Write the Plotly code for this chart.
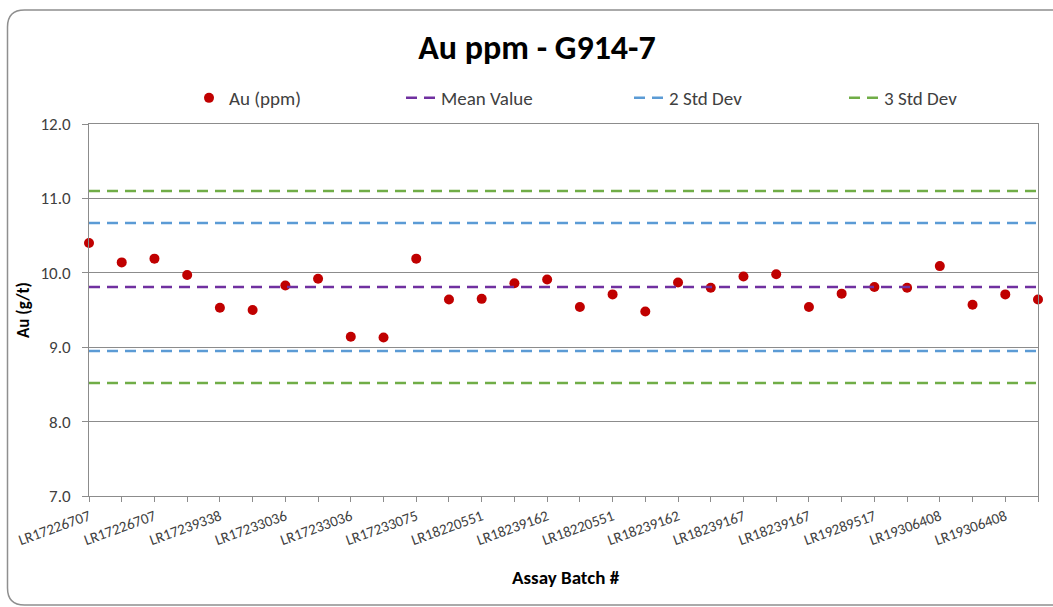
import plotly.graph_objects as go

# Au standard G914-7 control chart data
au_ppm = [10.40, 10.14, 10.19, 9.97, 9.53, 9.50, 9.83, 9.92, 9.14, 9.13,
          10.19, 9.64, 9.65, 9.86, 9.91, 9.54, 9.71, 9.48, 9.87, 9.80,
          9.95, 9.98, 9.54, 9.72, 9.81, 9.80, 10.09, 9.57, 9.71, 9.64]

# batch labels shown on every second sample
batch_labels = ["LR17226707", "LR17226707", "LR17239338", "LR17233036", "LR17233036",
                "LR17233075", "LR18220551", "LR18239162", "LR18220551", "LR18239162",
                "LR18239167", "LR18239167", "LR19289517", "LR19306408", "LR19306408"]

mean_value = 9.81
std_2 = [8.95, 10.67]
std_3 = [8.52, 11.10]

y_ticks = [7.0, 8.0, 9.0, 10.0, 11.0, 12.0]

W, H = 1053, 607
ML, MR, MT, MB = 89, 15, 124, 111

FONT = "Calibri, Carlito, sans-serif"
GRID = "#8c8c8c"
TXT = "#404040"

n = len(au_ppm)
xs = list(range(n))
tick_text = [batch_labels[i // 2] if i % 2 == 0 else "" for i in xs]

fig = go.Figure()

fig.add_trace(go.Scatter(
    x=xs, y=au_ppm, mode="markers", name="Au (ppm)", legend="legend",
    marker=dict(color="#c00000", size=10), cliponaxis=False))

dash = "11px,7px"
fig.add_trace(go.Scatter(
    x=[0, n - 1], y=[mean_value, mean_value], mode="lines", name="Mean Value",
    legend="legend2", line=dict(color="#7030a0", width=2.5, dash=dash)))
for j, (val, nm, col, lg) in enumerate([(std_2[1], "2 Std Dev", "#5b9bd5", "legend3"),
                                         (std_2[0], "2 Std Dev", "#5b9bd5", "legend3"),
                                         (std_3[1], "3 Std Dev", "#70ad47", "legend4"),
                                         (std_3[0], "3 Std Dev", "#70ad47", "legend4")]):
    fig.add_trace(go.Scatter(
        x=[0, n - 1], y=[val, val], mode="lines", name=nm, legend=lg,
        legendgroup=nm, showlegend=(j % 2 == 0),
        line=dict(color=col, width=2.5, dash=dash)))

# chart frame with rounded corners (pixel -> paper coordinates)
pw, ph = W - ML - MR, H - MT - MB


def px(x):
    return (x - ML) / pw


def py(y):
    return (H - MB - y) / ph


x0, y0, x1, y1, r = 7.5, 10, 1068, 605, 17
path = (f"M {px(x0 + r)},{py(y0)} L {px(x1 - r)},{py(y0)} "
        f"Q {px(x1)},{py(y0)} {px(x1)},{py(y0 + r)} "
        f"L {px(x1)},{py(y1 - r)} Q {px(x1)},{py(y1)} {px(x1 - r)},{py(y1)} "
        f"L {px(x0 + r)},{py(y1)} Q {px(x0)},{py(y1)} {px(x0)},{py(y1 - r)} "
        f"L {px(x0)},{py(y0 + r)} Q {px(x0)},{py(y0)} {px(x0 + r)},{py(y0)} Z")


def legend_at(text_x):
    # legend text begins 40px right of the legend box edge
    return dict(orientation="h", x=px(text_x - 40), xanchor="left",
                y=py(98), yanchor="middle",
                font=dict(size=19, color=TXT), bgcolor="rgba(0,0,0,0)")


fig.update_layout(
    width=W, height=H,
    margin=dict(l=ML, r=MR, t=MT, b=MB, autoexpand=False),
    paper_bgcolor="white", plot_bgcolor="white",
    font=dict(family=FONT, color=TXT, size=15),
    title=dict(text="<b>Au ppm - G914-7</b>", x=537 / W, xanchor="center",
               y=1 - 47 / H, yanchor="middle", xref="container", yref="container",
               font=dict(size=34, color="#000000", family=FONT)),
    legend=legend_at(229),
    legend2=legend_at(441),
    legend3=legend_at(669),
    legend4=legend_at(884),
    showlegend=True,
    shapes=[dict(type="path", path=path, xref="paper", yref="paper",
                 line=dict(color="#8f8f8f", width=1.5), layer="below")],
    annotations=[
        dict(text="<b>Au (g/t)</b>", x=px(23), y=0.5, xref="paper", yref="paper",
             textangle=-90, showarrow=False, xanchor="center", yanchor="middle",
             font=dict(size=17, color="#000000")),
        dict(text="<b>Assay Batch #</b>", x=px(566), y=py(577), xref="paper", yref="paper",
             showarrow=False, xanchor="center", yanchor="middle",
             font=dict(size=19, color="#000000")),
    ],
)

fig.update_xaxes(
    range=[0, n - 1], tickmode="array", tickvals=xs, ticktext=tick_text,
    tickangle=-20, ticks="outside", ticklen=5, tickcolor=GRID, tickwidth=1,
    showline=True, linecolor=GRID, linewidth=1, mirror=True,
    showgrid=False, zeroline=False,
    tickfont=dict(size=15, color=TXT))

fig.update_yaxes(
    range=[7, 12], tickmode="array", tickvals=y_ticks,
    ticktext=[f"{v:.1f}" for v in y_ticks],
    ticks="outside", ticklen=6, tickcolor=GRID, tickwidth=1, ticklabelstandoff=8,
    showline=True, linecolor=GRID, linewidth=1, mirror=True,
    showgrid=True, gridcolor=GRID, gridwidth=1, zeroline=False,
    tickfont=dict(size=17, color=TXT))

fig.write_html("out.html")
